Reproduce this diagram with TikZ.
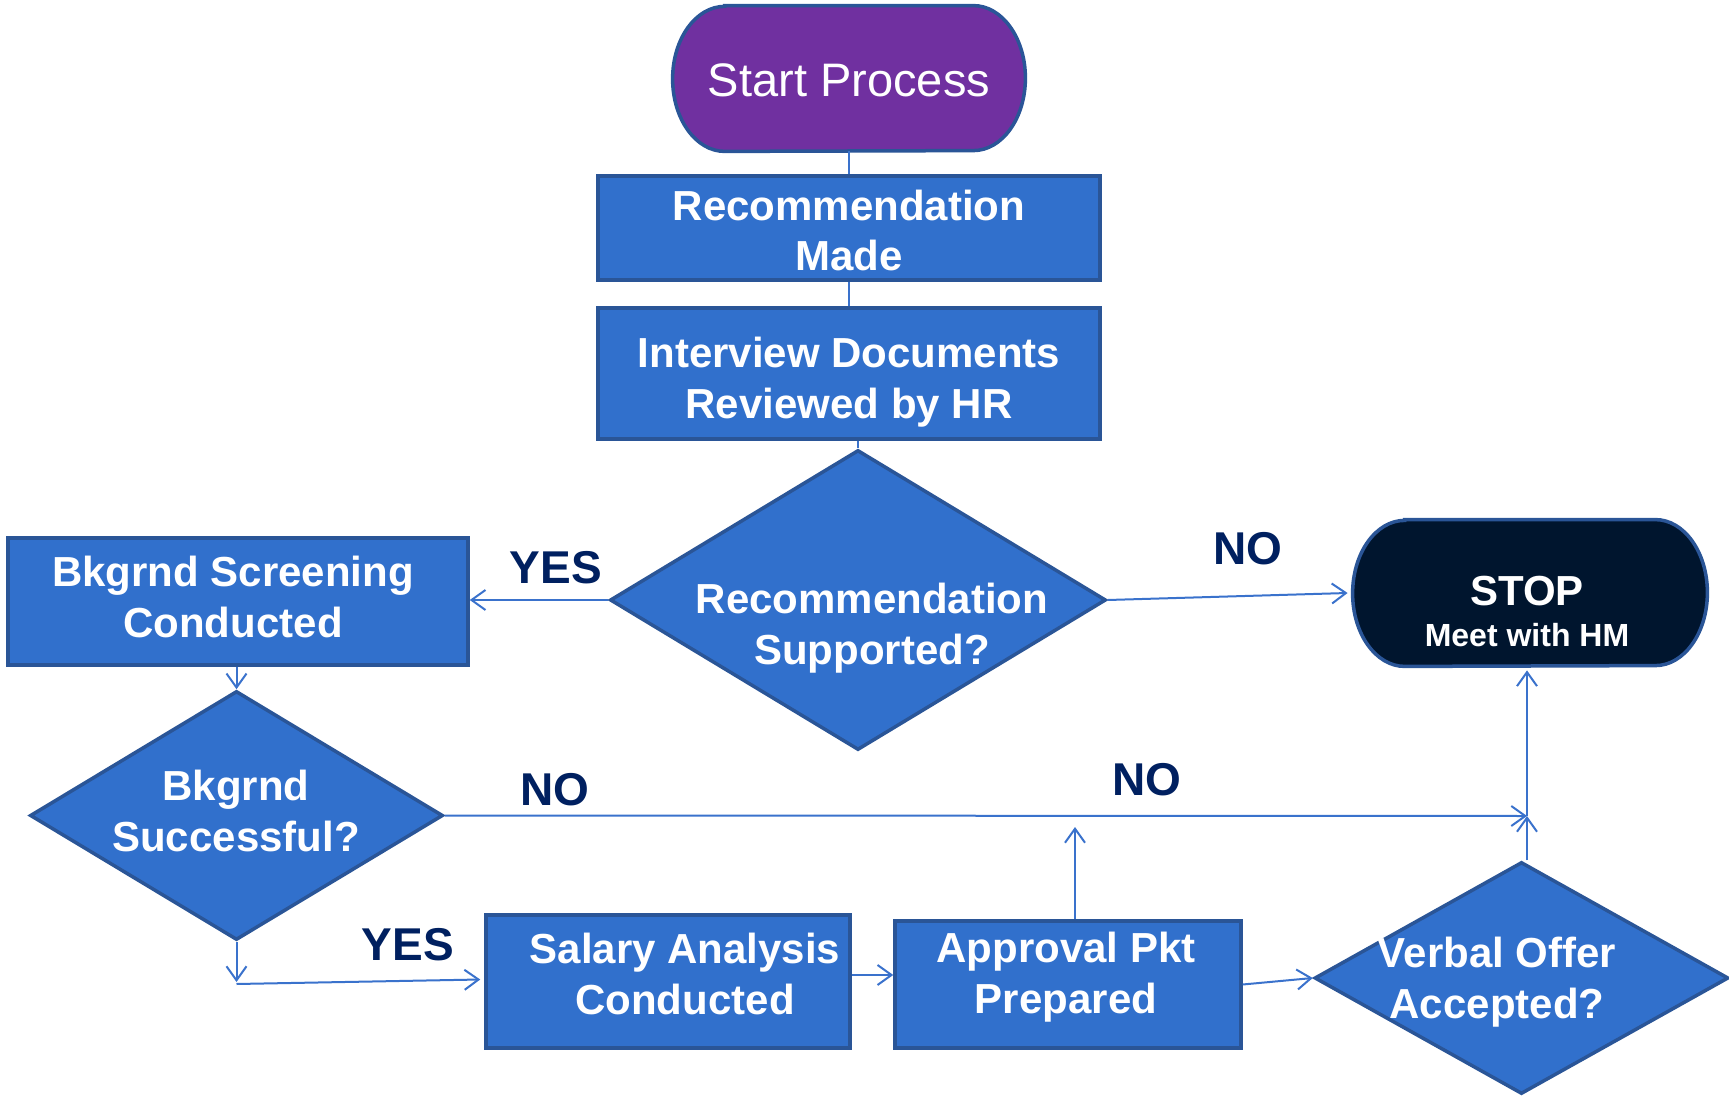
\documentclass[tikz,border=0pt]{standalone}
\usepackage{fontspec}
\setmainfont{Liberation Sans}
\usetikzlibrary{shapes.geometric,arrows.meta,calc}
\definecolor{boxfill}{HTML}{3170CC}
\definecolor{boxline}{HTML}{2A5597}
\definecolor{startfill}{HTML}{7030A0}
\definecolor{stopfill}{HTML}{00152E}
\definecolor{connc}{HTML}{3A72CC}
\definecolor{lab}{HTML}{002060}
\begin{document}
\begin{tikzpicture}[x={(0.5pt,0)}, y={(0,-0.5pt)},
  box/.style={rectangle, draw=boxline, line width=1.75pt, fill=boxfill, inner sep=0pt},
  dia/.style={diamond, draw=boxline, line width=1.75pt, fill=boxfill, inner sep=0pt},
  ghost/.style={rectangle, inner sep=0pt},
  txt/.style={text=white, font=\fontsize{21}{25.4}\selectfont\bfseries, align=center, inner sep=0pt},
  lbl/.style={text=lab, font=\fontsize{23}{26}\selectfont\bfseries, inner sep=0pt},
  conn/.style={draw=connc, line width=1pt},
  arr/.style={conn, -{Straight Barb[length=7pt,width=10pt]}}
]
\useasboundingbox (0,0) rectangle (1729,1096);

% Start terminal
\node[ghost, minimum width=176pt, minimum height=72.5pt] (start) at (849,78.5) {};
\draw[draw=boxline, line width=1.75pt, fill=startfill]
  ([xshift=26pt]start.north west) -- ([xshift=-26pt]start.north east)
  arc[start angle=90, end angle=-90, x radius=26pt, y radius=36.25pt]
  -- ([xshift=26pt]start.south west)
  arc[start angle=270, end angle=90, x radius=26pt, y radius=36.25pt] -- cycle;
\node[text=white, font=\fontsize{23.5}{26}\selectfont, inner sep=0pt] (tstart) at (849,80) {Start Process};

% Stop terminal
\node[ghost, minimum width=177pt, minimum height=73pt] (stop) at (1530,593) {};
\draw[draw=boxline, line width=1.75pt, fill=stopfill]
  ([xshift=26pt]stop.north west) -- ([xshift=-26pt]stop.north east)
  arc[start angle=90, end angle=-90, x radius=26pt, y radius=36.5pt]
  -- ([xshift=26pt]stop.south west)
  arc[start angle=270, end angle=90, x radius=26pt, y radius=36.5pt] -- cycle;
\node[text=white, font=\fontsize{21}{23.5}\selectfont\bfseries, inner sep=0pt] (tstop) at (1527,591) {STOP};
\node[text=white, font=\fontsize{16}{18}\selectfont\bfseries, inner sep=0pt] (tmeet) at (1527,635) {Meet with HM};

% Boxes
\node[box, minimum width=251pt, minimum height=52pt] (rec) at (849,228) {};
\node[txt] (trec) at (849,230.5) {Recommendation\\Made};
\node[box, minimum width=251pt, minimum height=65.5pt] (interview) at (849,373.5) {};
\node[txt] (tinterview) at (849,382.5) {Interview Documents\\Reviewed by HR};
\node[box, minimum width=230pt, minimum height=63.5pt] (bscreen) at (238,601.5) {};
\node[txt] (tbscreen) at (233,597) {Bkgrnd Screening\\Conducted};
\node[box, minimum width=182pt, minimum height=66.5pt] (salary) at (668,981.5) {};
\node[txt] (tsalary) at (685,974) {Salary Analysis\\Conducted};
\node[box, minimum width=173pt, minimum height=63.5pt] (approval) at (1068,984.5) {};
\node[txt] (tapproval) at (1066,977.5) {Approval Pkt\\Prepared};

% Diamonds
\node[dia, minimum width=248pt, minimum height=150pt] (d1) at (858,600) {};
\node[txt] (td1) at (872,628) {Recommendation\\Supported?};
\node[dia, minimum width=206.5pt, minimum height=124.5pt] (d2) at (236.5,815.5) {};
\node[txt] (td2) at (236,811) {Bkgrnd\\Successful?};
\node[dia, minimum width=207pt, minimum height=116pt] (d3) at (1521.5,978) {};
\node[txt] (td3) at (1497,982) {Verbal Offer\\Accepted?};

% Helper coordinates
\coordinate (j) at (1527,816);
\coordinate (c1) at (236.5,982);
\coordinate (a1) at (1075,827);

% Connectors
\draw[conn] (start.south) -- (rec.north);
\draw[conn] (rec.south) -- (interview.north);
\draw[conn] (d1.north |- interview.south) -- (d1.north);
\draw[arr] (d1.west) -- (bscreen.east |- d1.west);
\draw[arr] (d1.east) -- ([xshift=-2.5pt]stop.west);
\draw[arr] (bscreen.south -| d2.north) -- (d2.north);
\draw[arr] (d2.east) -- (j);
\draw[arr] (j |- d3.north) -- (j);
\draw[arr, shorten >=2pt] (j) -- (j |- stop.south);
\draw[arr] (d2.south) -- (c1);
\draw[arr] ([yshift=-1pt]c1) -- ([xshift=-2pt,yshift=1pt]salary.west);
\draw[arr] ([yshift=3.25pt]salary.east) -- ([yshift=4.75pt]approval.west);
\draw[arr] (a1 |- approval.north) -- (a1);
\draw[arr] (approval.east) -- (d3.west);

% Labels
\node[lbl] (yes1) at (556,568) {YES};
\node[lbl] (no1) at (1248,549) {NO};
\node[lbl] (no2) at (555,790) {NO};
\node[lbl] (no3) at (1147,780) {NO};
\node[lbl] (yes2) at (408,945) {YES};
\end{tikzpicture}
\end{document}
